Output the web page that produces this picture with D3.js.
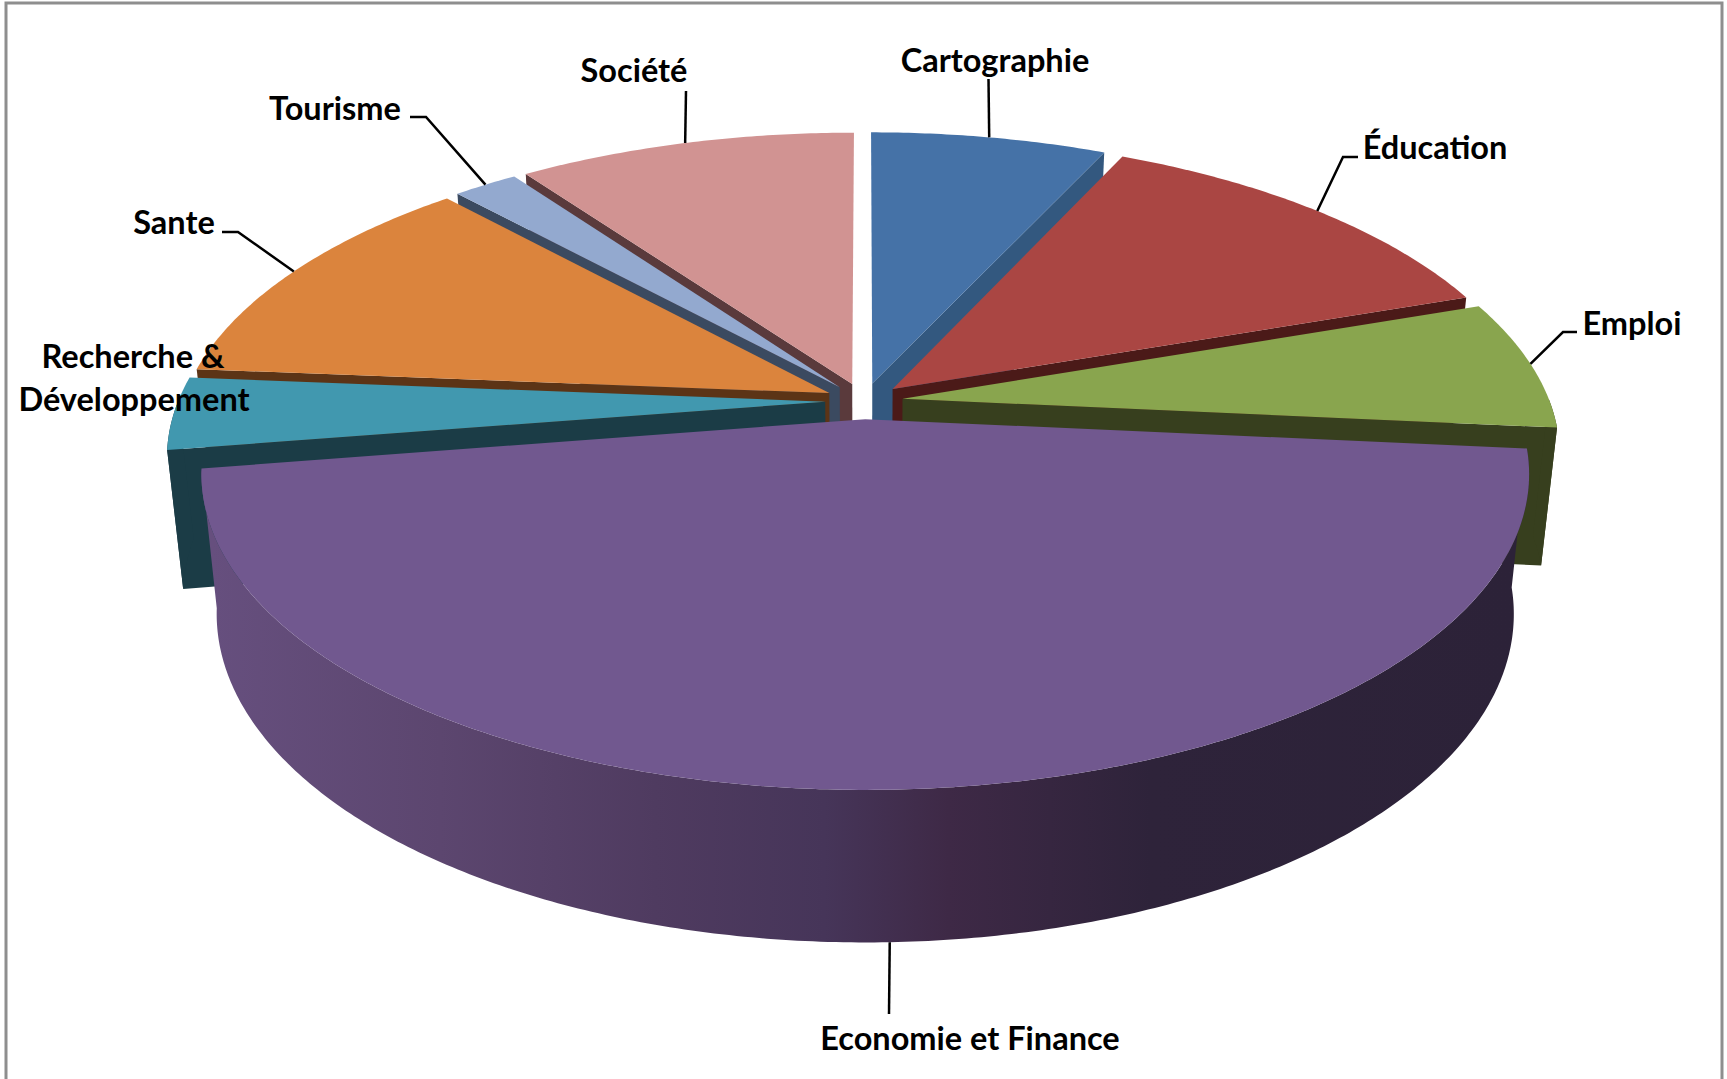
<!DOCTYPE html>
<html>
<head>
<meta charset="utf-8">
<script src="https://cdnjs.cloudflare.com/ajax/libs/d3/7.8.5/d3.min.js"></script>
<style>
  body { margin: 0; background: #fff; }
  text { font-family: Lato, "Open Sans", sans-serif; font-weight: 700; fill: #000; }
</style>
</head>
<body>
<svg id="chart" width="1727" height="1079"></svg>
<script>
// shares in percent
const categories = ['Cartographie', 'Éducation', 'Emploi', 'Economie et Finance',
  'Recherche & Développement', 'Sante', 'Tourisme', 'Société']
const shares = [6.9, 12.8, 6.8, 46, 3.8, 11.9, 1.9, 9.9]

const topColors = ['#4572a7', '#aa4643', '#89a54e', '#71588f', '#4198af', '#db843d', '#93a9cf', '#d19392']
const wallColors = ['#33587f', '#4b1a18', '#373f1e', '#2c2238', '#1b3c46', '#5c3416', '#3b4a60', '#5a3a3c']

// label boxes: line centres, then the leader's two points next to the text
const labelLayout = [
  { lines: [[995, 59]], elbow: [[988.5, 79]] },
  { lines: [[1435, 146]], elbow: [[1358, 157], [1343, 157]] },
  { lines: [[1632, 322]], elbow: [[1577, 332], [1563, 332]] },
  { lines: [[970, 1037]], elbow: [[889, 1014]] },
  { lines: [[133, 355], [134, 398]], elbow: [] },
  { lines: [[174, 221]], elbow: [[222, 232], [238, 232]] },
  { lines: [[335, 107]], elbow: [[410, 117], [426, 117]] },
  { lines: [[634, 69]], elbow: [[686, 91]] }
]
const labelLines = [
  ['Cartographie'], ['Éducation'], ['Emploi'], ['Economie et Finance'],
  ['Recherche &', 'Développement'], ['Sante'], ['Tourisme'], ['Société']
]

// camera
const cx = 864, cy = 401
const scaleX = 647, scaleY = 300, persp = 0.172
const explode = 0.06
const depth = 137, lowX = 0.977, lowY = 1.04

const svg = d3.select('#chart')
const pie = d3.pie().sort(null).value(d => d)
const arcs = pie(shares)

// point on the disc -> screen. a is clockwise from 12 o'clock
function project(slice, a, r, low) {
  const mid = (slice.startAngle + slice.endAngle) / 2
  const u = r * Math.sin(a) + explode * Math.sin(mid)
  const v = -r * Math.cos(a) - explode * Math.cos(mid)
  const w = 1 - persp * v
  if (low) return [cx + lowX * scaleX * u / w, cy + depth + lowY * scaleY * v / w]
  return [cx + scaleX * u / w, cy + scaleY * v / w]
}

function arcPoints(slice, from, to, low) {
  const n = Math.max(2, Math.ceil((to - from) / 0.01))
  return d3.range(n + 1).map(i => project(slice, from + (to - from) * i / n, 1, low))
}

const line = d3.line()
const closed = pts => line(pts) + 'Z'

// shading on the big slice's rim
const defs = svg.append('defs')
const rim = defs.append('linearGradient').attr('id', 'rim')
  .attr('gradientUnits', 'userSpaceOnUse')
  .attr('x1', 212).attr('x2', 1516).attr('y1', 0).attr('y2', 0)
const rimStops = [[0, '#664f7e'], [0.175, '#5c466f'], [0.34, '#4f3b60'], [0.47, '#463559'], [0.565, '#3e2946'], [0.72, '#2e233a'], [1, '#2c2238']]
rimStops.forEach(s => rim.append('stop').attr('offset', s[0]).attr('stop-color', s[1]))

// frame, open at the bottom
svg.append('path')
  .attr('d', line([[6, 1079], [6, 3], [1722, 3], [1722, 1079]]))
  .attr('fill', 'none').attr('stroke', '#8e8e8e').attr('stroke-width', 3)

// back slices first
const paintOrder = [7, 0, 6, 1, 5, 2, 4, 3]
const g = svg.append('g')

paintOrder.forEach(i => {
  const s = arcs[i]
  const walls = []
  // radial faces turned towards the viewer
  if (Math.sin(s.endAngle) > 0 && s.endAngle < Math.PI) walls.push(s.endAngle)
  if (Math.sin(s.startAngle) < 0 && s.startAngle > Math.PI) walls.push(s.startAngle)
  walls.forEach(a => {
    g.append('path')
      .attr('d', closed([project(s, a, 0, false), project(s, a, 1, false), project(s, a, 1, true), project(s, a, 0, true)]))
      .attr('fill', wallColors[i])
  })
  // outer rim on the front half
  const from = Math.max(s.startAngle, Math.PI / 2)
  const to = Math.min(s.endAngle, 3 * Math.PI / 2)
  if (to > from) {
    const pts = arcPoints(s, from, to, false).concat(arcPoints(s, from, to, true).reverse())
    g.append('path').attr('d', closed(pts))
      .attr('fill', i === 3 ? 'url(#rim)' : wallColors[i])
  }
  // top face
  const top = [project(s, s.startAngle, 0, false)].concat(arcPoints(s, s.startAngle, s.endAngle, false))
  g.append('path').attr('d', closed(top)).attr('fill', topColors[i])
})

// leaders and labels on top
categories.forEach((name, i) => {
  const s = arcs[i]
  const mid = (s.startAngle + s.endAngle) / 2
  const layout = labelLayout[i]
  if (layout.elbow.length) {
    const end = project(s, mid, 1, i === 3)
    svg.append('path').attr('d', line(layout.elbow.concat([end])))
      .attr('fill', 'none').attr('stroke', '#000').attr('stroke-width', 2.5)
  }
  layout.lines.forEach((p, k) => {
    svg.append('text').attr('x', p[0]).attr('y', p[1])
      .attr('text-anchor', 'middle').attr('dominant-baseline', 'central')
      .attr('font-size', 32.5)
      .text(labelLines[i][k])
  })
})
</script>
</body>
</html>
